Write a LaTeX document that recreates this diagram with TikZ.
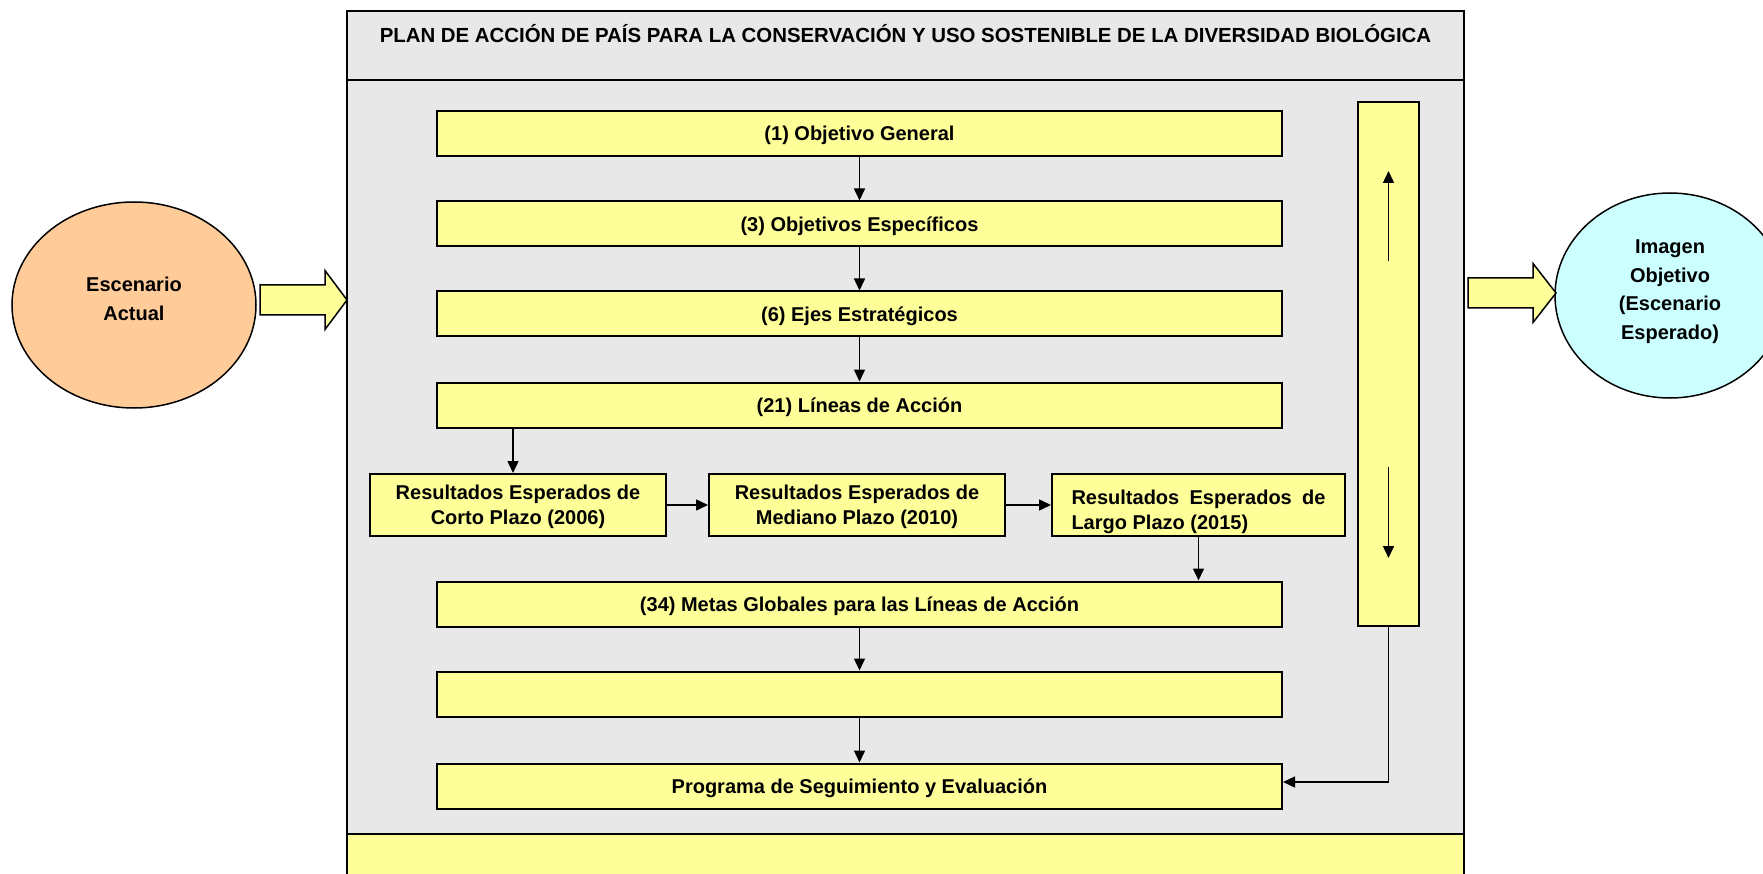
\documentclass[tikz,border=0pt]{standalone}
\usepackage{fontspec}
\setmainfont{Liberation Sans}
\usetikzlibrary{arrows.meta,shapes.geometric}

\definecolor{boxyellow}{HTML}{FFFF99}
\definecolor{planbg}{HTML}{E8E8E8}
\definecolor{actualfill}{HTML}{FFCC99}
\definecolor{imagenfill}{HTML}{CCFFFF}

\tikzset{
  stepbox/.style={draw=black, line width=2pt, fill=boxyellow, minimum width=845pt,
    minimum height=45pt, inner sep=0pt, text depth=-1pt,
    font=\bfseries\fontsize{20}{25}\selectfont},
  resbox/.style={stepbox, minimum width=296pt, minimum height=62pt, align=center, text depth=-7pt},
  scenario/.style={ellipse, draw=black, line width=1.5pt, inner sep=0pt, align=center,
    text depth=12pt, font=\bfseries\fontsize{20}{28.5}\selectfont},
  blockarrow/.style={fill=boxyellow, draw=black, line width=1.5pt, line join=miter},
}

\begin{document}
\begin{tikzpicture}[x=1pt, y=-1pt, >={Triangle[length=12pt,width=11pt]}, line width=1.5pt]
  \useasboundingbox (0,0) rectangle (1763,874);

  % marco del plan
  \fill[planbg] (347,11) rectangle (1464,880);
  \fill[boxyellow] (347,834) rectangle (1464,880);
  \draw[line width=2pt] (347,880) -- (347,11) -- (1464,11) -- (1464,880);
  \draw[line width=2pt] (347,80) -- (1464,80);
  \draw[line width=2pt] (347,834) -- (1464,834);
  \node[font=\bfseries\fontsize{20.4}{24}\selectfont] (t) at (905.5,34)
    {PLAN DE ACCIÓN DE PAÍS PARA LA CONSERVACIÓN Y USO SOSTENIBLE DE LA DIVERSIDAD BIOLÓGICA};

  % escenarios
  \node[scenario, fill=actualfill, minimum width=244pt, minimum height=206pt] (e) at (134,305)
    {Escenario\\Actual};
  \node[scenario, fill=imagenfill, minimum width=230pt, minimum height=205pt] (i) at (1670,295.5)
    {Imagen\\Objetivo\\(Escenario\\Esperado)};
  \filldraw[blockarrow, shift={(260,300)}]
    (0,-15) -- (65,-15) -- (65,-29.5) -- (87,0) -- (65,29.5) -- (65,15) -- (0,15) -- cycle;
  \filldraw[blockarrow, shift={(1468,293)}]
    (0,-15) -- (65,-15) -- (65,-29.5) -- (88,0) -- (65,29.5) -- (65,15) -- (0,15) -- cycle;

  % cajas
  \node[stepbox] (o) at (859.5,133.5) {(1) Objetivo General};
  \node[stepbox] (oe) at (859.5,224) {(3) Objetivos Específicos};
  \node[stepbox] (ej) at (859.5,314) {(6) Ejes Estratégicos};
  \node[stepbox] (la) at (859.5,405) {(21) Líneas de Acción};
  \node[resbox] (rc) at (518,505) {Resultados Esperados de\\Corto Plazo (2006)};
  \node[resbox] (rm) at (857,505) {Resultados Esperados de\\Mediano Plazo (2010)};
  \node[resbox, minimum width=293pt, text width=254pt, align=justify, text depth=16pt] (rl)
    at (1198.5,505) {Resultados Esperados de Largo Plazo (2015)};
  \node[stepbox] (m) at (859.5,604) {(34) Metas Globales para las Líneas de Acción};
  \node[stepbox] (v) at (859.5,694) {};
  \node[stepbox] (p) at (859.5,786) {Programa de Seguimiento y Evaluación};
  \node[stepbox, minimum width=61pt, minimum height=524pt] (b) at (1388.5,364) {};

  \draw[->] (o) -- (oe);
  \draw[->] (oe) -- (ej);
  \draw[->] (ej) -- (la);
  \draw[->] ([xshift=77pt]la.south west) -- ([xshift=77pt]la.south west |- rc.north);
  \draw[->] (rc) -- (rm);
  \draw[->] (rm) -- (rl.west |- rm);
  \draw[->] (rl.south) -- (rl.south |- m.north);
  \draw[->] (m) -- (v);
  \draw[->] (v) -- (p);
  \draw[->] (b.south) |- ([yshift=4pt]p.east);
  \draw[->] ([yshift=-160pt]b.north) -- ([yshift=-70pt]b.north);
  \draw[->] ([yshift=-366pt]b.north) -- ([yshift=69pt]b.south);
\end{tikzpicture}
\end{document}
